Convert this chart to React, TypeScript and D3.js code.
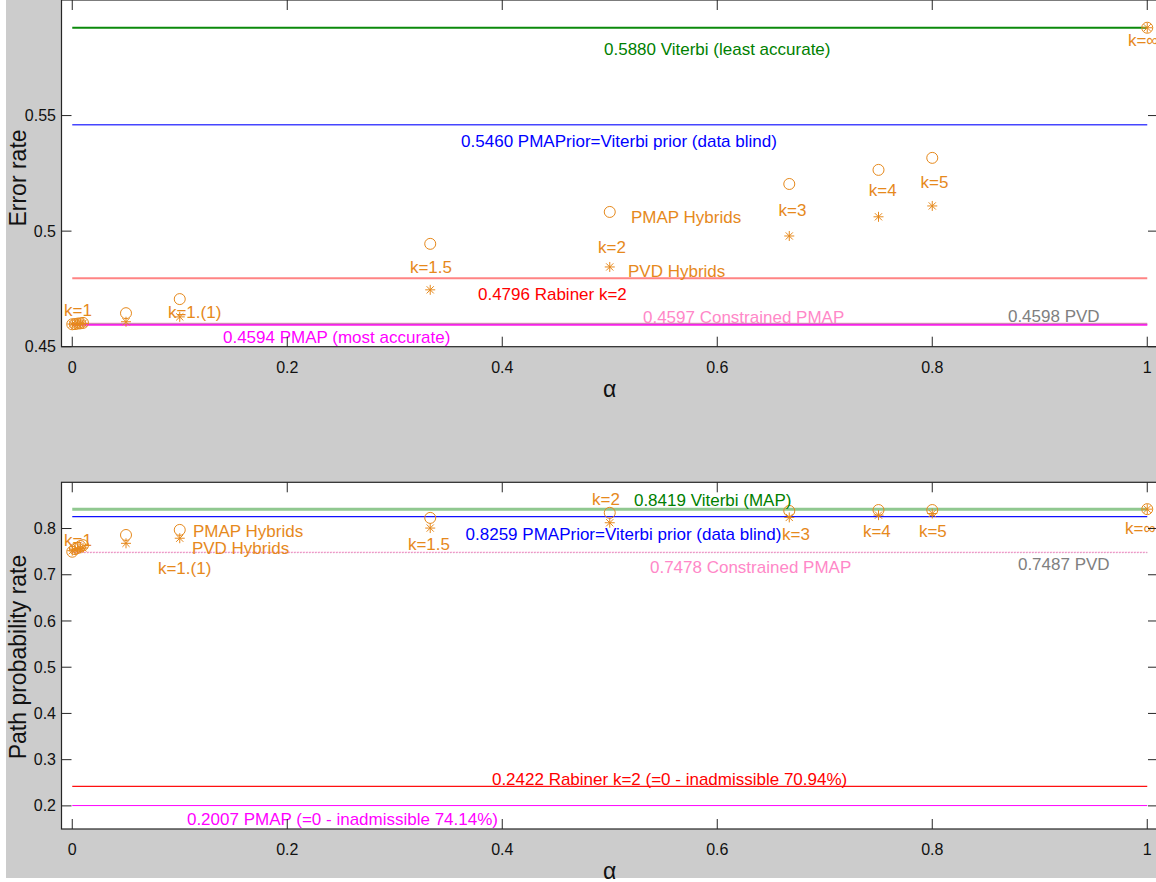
import { useMemo } from "react";
import * as d3 from "d3";

const WIDTH = 1156;
const HEIGHT = 882;
const FONT = "'Liberation Sans', Arial, sans-serif";
const ORANGE = "#e6891c";

// alpha values of the hybrid decoders
const alphas = [0, 0.0025, 0.005, 0.0075, 0.01, 0.05, 0.1, 0.333, 0.5, 0.667, 0.75, 0.8, 1];

// error rate of the hybrids
const errPMAPHybrid = [0.4597, 0.4598, 0.46, 0.4601, 0.4603, 0.4645, 0.4706, 0.4945, 0.5083, 0.5204, 0.5265, 0.5317, 0.588];
const errPVDHybrid = [0.4598, 0.4598, 0.4599, 0.46, 0.4601, 0.4608, 0.4629, 0.4746, 0.4845, 0.4979, 0.5062, 0.5109, 0.588];

// path probability rate of the hybrids
const probPMAPHybrid = [0.7498, 0.7556, 0.758, 0.762, 0.764, 0.786, 0.797, 0.823, 0.834, 0.838, 0.84, 0.84, 0.8419];
const probPVDHybrid = [0.752, 0.754, 0.756, 0.757, 0.758, 0.768, 0.779, 0.801, 0.8125, 0.824, 0.829, 0.8325, 0.8419];

// reference decoders
const errRefValues = [0.588, 0.546, 0.4796, 0.4597, 0.4598, 0.4594];
const errRefLabels = [
  "0.5880 Viterbi (least accurate)",
  "0.5460 PMAPrior=Viterbi prior (data blind)",
  "0.4796 Rabiner k=2",
  "0.4597 Constrained PMAP",
  "0.4598 PVD",
  "0.4594 PMAP (most accurate)",
];
const probRefValues = [0.8419, 0.8259, 0.7478, 0.7487, 0.2422, 0.2007];
const probRefLabels = [
  "0.8419 Viterbi (MAP)",
  "0.8259 PMAPrior=Viterbi prior (data blind)",
  "0.7478 Constrained PMAP",
  "0.7487 PVD",
  "0.2422 Rabiner k=2 (=0 - inadmissible 70.94%)",
  "0.2007 PMAP (=0 - inadmissible 74.14%)",
];

const kLabels = ["k=1", "k=1.(1)", "k=1.5", "k=2", "k=3", "k=4", "k=5", "k=∞"];

const xTicks = [0, 0.2, 0.4, 0.6, 0.8, 1];
const errTicks = [0.45, 0.5, 0.55];
const probTicks = [0.2, 0.3, 0.4, 0.5, 0.6, 0.7, 0.8];

type Ann = { text: string; x: number; y: number; color: string; anchor?: string };
type RefStyle = { color: string; width: number; dash?: string };

const refColorsTop: RefStyle[] = [
  { color: "#0b8a0b", width: 2 },
  { color: "#4646ff", width: 1.5 },
  { color: "#ff8484", width: 2 },
  { color: "#ff8ccc", width: 3 },
  { color: "#909090", width: 1 },
  { color: "#ff00ff", width: 1.3 },
];
const refColorsBottom: RefStyle[] = [
  { color: "#90c890", width: 3 },
  { color: "#1010ff", width: 1.3 },
  { color: "#909090", width: 1, dash: "1,2" },
  { color: "#ff8ccc", width: 1, dash: "2,1" },
  { color: "#ff1010", width: 1.2 },
  { color: "#ff00ff", width: 1 },
];
const labelColors = ["#008000", "#0000ff", "#ff0000", "#ff88c8", "#808080", "#ff00ff"];

const xScale = d3.scaleLinear().domain([-0.01, 1.01]).range([61.5, 1158]);

const Star = ({ x, y }: { x: number; y: number }) => {
  const a = 5;
  const b = 3.6;
  return (
    <path
      d={`M${x - a},${y}H${x + a}M${x},${y - a}V${y + a}M${x - b},${y - b}L${x + b},${y + b}M${x - b},${y + b}L${x + b},${y - b}`}
      stroke={ORANGE}
      strokeWidth={1}
      fill="none"
    />
  );
};

type PanelProps = {
  top: number;
  bottom: number;
  yDomain: [number, number];
  yTicks: number[];
  ylabel: string;
  ylabelY: number;
  refValues: number[];
  refStyles: RefStyle[];
  pmap: number[];
  pvd: number[];
  anns: Ann[];
};

const Panel = ({ top, bottom, yDomain, yTicks, ylabel, ylabelY, refValues, refStyles, pmap, pvd, anns }: PanelProps) => {
  const yScale = useMemo(() => d3.scaleLinear().domain(yDomain).range([bottom, top]), [yDomain, top, bottom]);
  const [x0, x1] = xScale.range();
  const tick = 10;
  return (
    <g fontFamily={FONT}>
      <rect x={x0} y={top} width={x1 - x0} height={bottom - top} fill="white" />
      {/* reference lines */}
      {refValues.map((v, i) => (
        <line
          key={i}
          x1={xScale(0)}
          x2={xScale(1)}
          y1={yScale(v)}
          y2={yScale(v)}
          stroke={refStyles[i].color}
          strokeWidth={refStyles[i].width}
          strokeDasharray={refStyles[i].dash}
        />
      ))}
      {/* hybrids */}
      {alphas.map((a, i) => (
        <circle key={"c" + i} cx={xScale(a)} cy={yScale(pmap[i])} r={5.5} fill="none" stroke={ORANGE} strokeWidth={1} />
      ))}
      {alphas.map((a, i) => (
        <Star key={"s" + i} x={xScale(a)} y={yScale(pvd[i])} />
      ))}
      {anns.map((d, i) => (
        <text key={"a" + i} x={xScale(d.x)} y={yScale(d.y)} fill={d.color} fontSize={17} textAnchor={d.anchor || "start"}>
          {d.text}
        </text>
      ))}
      {/* frame */}
      <rect x={x0} y={top} width={x1 - x0} height={bottom - top} fill="none" stroke="#262626" strokeWidth={1.2} />
      {xTicks.map((t) => (
        <g key={"xt" + t}>
          <line x1={xScale(t)} x2={xScale(t)} y1={bottom} y2={bottom - tick} stroke="#262626" />
          <line x1={xScale(t)} x2={xScale(t)} y1={top} y2={top + tick} stroke="#262626" />
          <text x={xScale(t)} y={bottom + 26} textAnchor="middle" fontSize={16} fill="#111">
            {d3.format("~g")(t)}
          </text>
        </g>
      ))}
      {yTicks.map((t) => (
        <g key={"yt" + t}>
          <line x1={x0} x2={x0 + tick} y1={yScale(t)} y2={yScale(t)} stroke="#262626" />
          <line x1={x1} x2={x1 - tick} y1={yScale(t)} y2={yScale(t)} stroke="#262626" />
          <text x={56} y={yScale(t)} dy="0.35em" textAnchor="end" fontSize={16} fill="#111">
            {d3.format("~g")(t)}
          </text>
        </g>
      ))}
      <text x={xScale(0.5)} y={bottom + 50} textAnchor="middle" fontSize={23} fill="#111">
        α
      </text>
      <text transform={`translate(26,${ylabelY}) rotate(-90)`} textAnchor="middle" fontSize={23} fill="#111">
        {ylabel}
      </text>
    </g>
  );
};

const topAnns: Ann[] = [
  { text: errRefLabels[0], x: 0.6, y: 0.5763, color: labelColors[0], anchor: "middle" },
  { text: errRefLabels[1], x: 0.5086, y: 0.5365, color: labelColors[1], anchor: "middle" },
  { text: "PMAP Hybrids", x: 0.5197, y: 0.5034, color: ORANGE },
  { text: "PVD Hybrids", x: 0.517, y: 0.4801, color: ORANGE },
  { text: errRefLabels[2], x: 0.3774, y: 0.4704, color: labelColors[2] },
  { text: errRefLabels[3], x: 0.5309, y: 0.4603, color: labelColors[3] },
  { text: errRefLabels[4], x: 0.8704, y: 0.4607, color: labelColors[4] },
  { text: errRefLabels[5], x: 0.1402, y: 0.4516, color: labelColors[5] },
  { text: kLabels[0], x: 0.0053, y: 0.4633, color: ORANGE, anchor: "middle" },
  { text: kLabels[1], x: 0.089, y: 0.4624, color: ORANGE },
  { text: kLabels[2], x: 0.3337, y: 0.4819, color: ORANGE, anchor: "middle" },
  { text: kLabels[3], x: 0.502, y: 0.4906, color: ORANGE, anchor: "middle" },
  { text: kLabels[4], x: 0.67, y: 0.5066, color: ORANGE, anchor: "middle" },
  { text: kLabels[5], x: 0.754, y: 0.5152, color: ORANGE, anchor: "middle" },
  { text: kLabels[6], x: 0.802, y: 0.5187, color: ORANGE, anchor: "middle" },
  { text: kLabels[7], x: 0.982, y: 0.5802, color: ORANGE },
];

const bottomAnns: Ann[] = [
  { text: kLabels[3], x: 0.4965, y: 0.8508, color: ORANGE, anchor: "middle" },
  { text: probRefLabels[0], x: 0.5225, y: 0.8487, color: labelColors[0] },
  { text: probRefLabels[1], x: 0.3659, y: 0.7751, color: labelColors[1] },
  { text: kLabels[4], x: 0.6602, y: 0.7751, color: ORANGE },
  { text: kLabels[5], x: 0.7485, y: 0.7816, color: ORANGE, anchor: "middle" },
  { text: kLabels[6], x: 0.8006, y: 0.7816, color: ORANGE, anchor: "middle" },
  { text: kLabels[7], x: 0.9793, y: 0.7881, color: ORANGE },
  { text: kLabels[0], x: -0.0077, y: 0.7622, color: ORANGE },
  { text: "PMAP Hybrids", x: 0.1123, y: 0.7816, color: ORANGE },
  { text: "PVD Hybrids", x: 0.1113, y: 0.7448, color: ORANGE },
  { text: kLabels[2], x: 0.3318, y: 0.7535, color: ORANGE, anchor: "middle" },
  { text: kLabels[1], x: 0.0797, y: 0.7016, color: ORANGE },
  { text: probRefLabels[2], x: 0.5374, y: 0.7038, color: labelColors[3] },
  { text: probRefLabels[3], x: 0.8797, y: 0.7103, color: labelColors[4] },
  { text: probRefLabels[4], x: 0.3904, y: 0.2452, color: labelColors[2] },
  { text: probRefLabels[5], x: 0.1067, y: 0.1587, color: labelColors[5] },
];

export default function App() {
  return (
    <svg width={WIDTH} height={HEIGHT} style={{ position: "absolute", left: 0, top: 0 }}>
      <rect x={0} y={0} width={WIDTH} height={HEIGHT} fill="white" />
      <rect x={6} y={0} width={WIDTH - 6} height={878} fill="#cccccc" />
      <Panel
        top={0}
        bottom={346.7}
        yDomain={[0.45, 0.6]}
        yTicks={errTicks}
        ylabel="Error rate"
        ylabelY={178}
        refValues={errRefValues}
        refStyles={refColorsTop}
        pmap={errPMAPHybrid}
        pvd={errPVDHybrid}
        anns={topAnns}
      />
      <Panel
        top={482.3}
        bottom={829}
        yDomain={[0.15, 0.9]}
        yTicks={probTicks}
        ylabel="Path probability rate"
        ylabelY={657}
        refValues={probRefValues}
        refStyles={refColorsBottom}
        pmap={probPMAPHybrid}
        pvd={probPVDHybrid}
        anns={bottomAnns}
      />
    </svg>
  );
}
